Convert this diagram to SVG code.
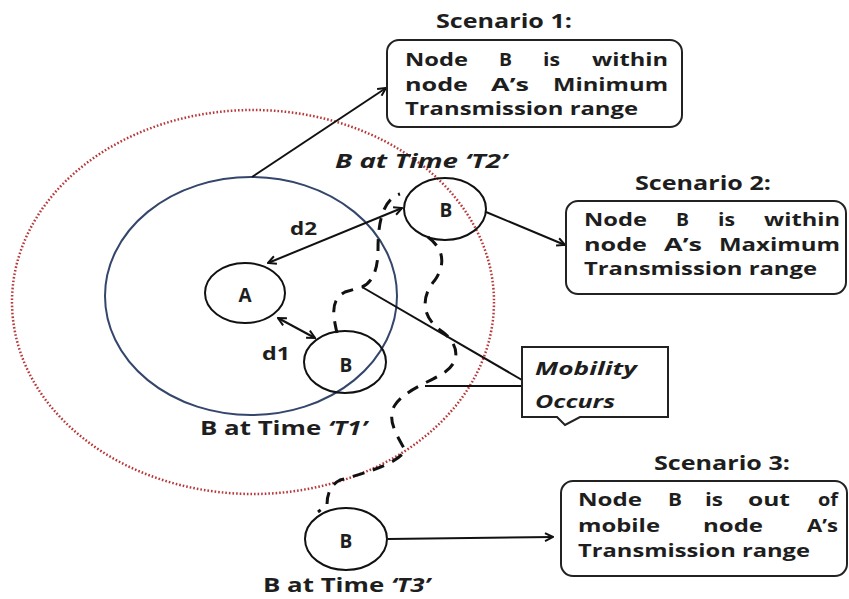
<svg xmlns="http://www.w3.org/2000/svg" width="849" height="599" viewBox="0 0 849 599">
<defs>
<marker id="ah" viewBox="0 0 10 10" refX="9" refY="5" markerWidth="10" markerHeight="10" markerUnits="userSpaceOnUse" orient="auto-start-reverse"><path d="M1,1 L9,5 L1,9" fill="none" stroke="#111" stroke-width="2"/></marker>
</defs>
<style>
.t{font-family:"Open Sans","Liberation Sans",sans-serif;font-weight:700;fill:#1e1e1e;font-size:20px}
.b{font-size:18px}
.s{font-size:19px}
.i{font-style:italic}
.box{fill:#fff;stroke:#222;stroke-width:2}
.node{fill:none;stroke:#111;stroke-width:2}
.ln{fill:none;stroke:#111;stroke-width:2}
.dash{fill:none;stroke:#111;stroke-width:3;stroke-dasharray:12 9}
</style>
<rect width="849" height="599" fill="#fff"/>
<g id="ranges">
<ellipse cx="253" cy="302" rx="241" ry="192" fill="none" stroke="#b8383a" stroke-width="2.5" stroke-dasharray="1.6 2"/>
<ellipse cx="251" cy="296" rx="146" ry="119" fill="none" stroke="#34466b" stroke-width="2"/>
</g>
<g id="connectors">
<line class="ln" x1="252" y1="177" x2="386" y2="88" marker-end="url(#ah)"/>
<line class="ln" x1="486" y1="212" x2="565" y2="245" marker-end="url(#ah)"/>
<line class="ln" x1="388" y1="539" x2="553" y2="537" marker-end="url(#ah)"/>
<line class="ln" x1="268" y1="263" x2="402" y2="208" marker-start="url(#ah)" marker-end="url(#ah)"/>
<line class="ln" x1="278" y1="318" x2="315" y2="338" stroke-width="3" marker-start="url(#ah)" marker-end="url(#ah)"/>
<line class="ln" x1="522" y1="380" x2="362" y2="287"/>
<line class="ln" x1="425" y1="386" x2="522" y2="386"/>
<path class="dash" d="M337,333 C333,315 330,300 345,292 L362,287 C372,283 378,270 378,250 C378,230 380,200 400,194"/>
<path class="dash" d="M428,237 C445,250 445,265 435,280 C422,295 420,315 440,330 C458,342 462,360 445,372 C430,382 405,390 395,405 C385,420 400,440 405,450 C400,462 370,472 340,480 C330,485 327,495 327,505 L318,512"/>
</g>
<g id="nodeA">
<ellipse class="node" cx="245" cy="293" rx="40" ry="30"/>
<text class="t" x="245" y="302" text-anchor="middle" style="font-size:19px">A</text>
</g>
<g id="nodeB_T1">
<ellipse class="node" cx="345" cy="362" rx="41" ry="31"/>
<text class="t" x="346" y="372" text-anchor="middle" style="font-size:19px">B</text>
<text class="t" x="200" y="435" textLength="167" lengthAdjust="spacingAndGlyphs">B at Time <tspan class="i">‘T1’</tspan></text>
</g>
<g id="nodeB_T2">
<ellipse class="node" cx="445" cy="209" rx="41" ry="31"/>
<text class="t" x="446" y="217" text-anchor="middle" style="font-size:19px">B</text>
<text class="t i" x="335" y="168" textLength="172" lengthAdjust="spacingAndGlyphs">B at Time ‘T2’</text>
</g>
<g id="nodeB_T3">
<ellipse class="node" cx="346" cy="539" rx="41" ry="31"/>
<text class="t" x="346" y="548" text-anchor="middle" style="font-size:19px">B</text>
<text class="t" x="263" y="592" textLength="167" lengthAdjust="spacingAndGlyphs">B at Time <tspan class="i">‘T3’</tspan></text>
</g>
<g id="labels">
<text class="t" x="290" y="235" textLength="27" lengthAdjust="spacingAndGlyphs" style="font-size:18px">d2</text>
<text class="t" x="262" y="360" textLength="28" lengthAdjust="spacingAndGlyphs" style="font-size:18px">d1</text>
</g>
<g id="mobility">
<path class="box" d="M522,347 H668 V417 H580 L565,425 L557,417 H522 Z"/>
<text class="t i b" x="535" y="375" textLength="102" lengthAdjust="spacingAndGlyphs">Mobility</text>
<text class="t i b" x="535" y="408" textLength="80" lengthAdjust="spacingAndGlyphs">Occurs</text>
</g>
<g id="scenario1">
<text class="t s" x="436" y="28" textLength="136" lengthAdjust="spacingAndGlyphs">Scenario 1:</text>
<rect class="box" x="387" y="40" width="295" height="87" rx="12"/>
<text class="t b" x="405" y="66" textLength="63" lengthAdjust="spacingAndGlyphs">Node</text>
<text class="t b" x="499" y="66" textLength="13" lengthAdjust="spacingAndGlyphs">B</text>
<text class="t b" x="543" y="66" textLength="17" lengthAdjust="spacingAndGlyphs">is</text>
<text class="t b" x="592" y="66" textLength="76" lengthAdjust="spacingAndGlyphs">within</text>
<text class="t b" x="405" y="91" textLength="63" lengthAdjust="spacingAndGlyphs">node</text>
<text class="t b" x="491" y="91" textLength="38" lengthAdjust="spacingAndGlyphs">A’s</text>
<text class="t b" x="553" y="91" textLength="115" lengthAdjust="spacingAndGlyphs">Minimum</text>
<text class="t b" x="405" y="115" textLength="233" lengthAdjust="spacingAndGlyphs">Transmission range</text>
</g>
<g id="scenario2">
<text class="t s" x="635" y="190" textLength="136" lengthAdjust="spacingAndGlyphs">Scenario 2:</text>
<rect class="box" x="566" y="201" width="280" height="93" rx="12"/>
<text class="t b" x="584" y="226" textLength="63" lengthAdjust="spacingAndGlyphs">Node</text>
<text class="t b" x="676" y="226" textLength="13" lengthAdjust="spacingAndGlyphs">B</text>
<text class="t b" x="718" y="226" textLength="17" lengthAdjust="spacingAndGlyphs">is</text>
<text class="t b" x="764" y="226" textLength="76" lengthAdjust="spacingAndGlyphs">within</text>
<text class="t b" x="584" y="251" textLength="63" lengthAdjust="spacingAndGlyphs">node</text>
<text class="t b" x="664" y="251" textLength="38" lengthAdjust="spacingAndGlyphs">A’s</text>
<text class="t b" x="719" y="251" textLength="121" lengthAdjust="spacingAndGlyphs">Maximum</text>
<text class="t b" x="584" y="275" textLength="233" lengthAdjust="spacingAndGlyphs">Transmission range</text>
</g>
<g id="scenario3">
<text class="t s" x="654" y="470" textLength="136" lengthAdjust="spacingAndGlyphs">Scenario 3:</text>
<rect class="box" x="561" y="481" width="286" height="95" rx="12"/>
<text class="t b" x="578" y="506" textLength="64" lengthAdjust="spacingAndGlyphs">Node</text>
<text class="t b" x="668" y="506" textLength="14" lengthAdjust="spacingAndGlyphs">B</text>
<text class="t b" x="705" y="506" textLength="18" lengthAdjust="spacingAndGlyphs">is</text>
<text class="t b" x="748" y="506" textLength="42" lengthAdjust="spacingAndGlyphs">out</text>
<text class="t b" x="818" y="506" textLength="20" lengthAdjust="spacingAndGlyphs">of</text>
<text class="t b" x="578" y="532" textLength="82" lengthAdjust="spacingAndGlyphs">mobile</text>
<text class="t b" x="703" y="532" textLength="60" lengthAdjust="spacingAndGlyphs">node</text>
<text class="t b" x="807" y="532" textLength="31" lengthAdjust="spacingAndGlyphs">A’s</text>
<text class="t b" x="578" y="557" textLength="232" lengthAdjust="spacingAndGlyphs">Transmission range</text>
</g>
</svg>
